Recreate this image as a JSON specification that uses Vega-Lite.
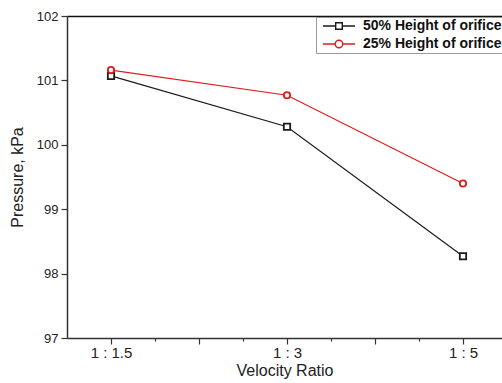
{
  "$schema": "https://vega.github.io/schema/vega-lite/v6.json",
  "width": 435,
  "height": 322,
  "autosize": {"type": "none"},
  "padding": {"left": 67, "top": 16, "right": 0, "bottom": 45},
  "background": "white",
  "config": {
    "font": "Liberation Sans",
    "view": {"stroke": null},
    "axis": {
      "domainColor": "#333333",
      "domainWidth": 1.5,
      "tickColor": "#333333",
      "tickWidth": 1.2,
      "labelFont": "Liberation Sans",
      "labelFontSize": 13,
      "labelColor": "#222222",
      "titleFont": "Liberation Sans",
      "titleFontSize": 16,
      "titleFontWeight": "normal",
      "titleColor": "#222222",
      "grid": false
    }
  },
  "data": {
    "values": [
      {"ratio": 1, "series": "50% Height of orifice", "pressure": 101.07},
      {"ratio": 2, "series": "50% Height of orifice", "pressure": 100.28},
      {"ratio": 3, "series": "50% Height of orifice", "pressure": 98.27},
      {"ratio": 1, "series": "25% Height of orifice", "pressure": 101.16},
      {"ratio": 2, "series": "25% Height of orifice", "pressure": 100.77},
      {"ratio": 3, "series": "25% Height of orifice", "pressure": 99.40}
    ]
  },
  "resolve": {
    "scale": {"stroke": "independent", "shape": "independent"},
    "axis": {"x": "independent"}
  },
  "layer": [
    {
      "mark": {"type": "line", "strokeWidth": 1.2},
      "encoding": {
        "x": {
          "field": "ratio", "type": "quantitative",
          "scale": {"domain": [0.75, 3.2216], "nice": false, "zero": false},
          "axis": {
            "orient": "bottom",
            "title": "Velocity Ratio",
            "titlePadding": 2,
            "values": [1, 1.25, 1.5, 1.75, 2, 2.25, 2.5, 2.75, 3],
            "labelExpr": "datum.value == 1 ? '1 : 1.5' : datum.value == 2 ? '1 : 3' : datum.value == 3 ? '1 : 5' : ''",
            "tickSize": {"condition": {"test": "datum.value % 0.5 == 0", "value": 6}, "value": 3},
            "labelFontSize": 15,
            "labelPadding": 1,
            "labelFlush": false
          }
        },
        "y": {
          "field": "pressure", "type": "quantitative",
          "scale": {"domain": [97, 102], "nice": false, "zero": false},
          "axis": {
            "title": "Pressure, kPa",
            "titlePadding": 11,
            "values": [97, 97.5, 98, 98.5, 99, 99.5, 100, 100.5, 101, 101.5, 102],
            "labelExpr": "datum.value % 1 == 0 ? format(datum.value, 'd') : ''",
            "tickSize": {"condition": {"test": "datum.value % 1 == 0", "value": 6}, "value": 3},
            "labelPadding": 3,
            "labelFlush": false
          }
        },
        "stroke": {
          "field": "series", "type": "nominal",
          "scale": {"domain": ["50% Height of orifice", "25% Height of orifice"], "range": ["#1a1a1a", "#e01b1b"]},
          "legend": null
        }
      }
    },
    {
      "mark": {"type": "point", "filled": false, "fill": "white", "strokeWidth": 1.8, "opacity": 1},
      "encoding": {
        "x": {"field": "ratio", "type": "quantitative", "axis": null},
        "y": {"field": "pressure", "type": "quantitative"},
        "stroke": {
          "field": "series", "type": "nominal",
          "scale": {"domain": ["50% Height of orifice", "25% Height of orifice"], "range": ["#1a1a1a", "#e01b1b"]},
          "legend": null
        },
        "shape": {
          "field": "series", "type": "nominal",
          "scale": {"domain": ["50% Height of orifice", "25% Height of orifice"], "range": ["square", "circle"]},
          "legend": null
        },
        "size": {"value": 40}
      }
    },
    {
      "mark": {"type": "point", "filled": false, "fill": "white", "strokeWidth": 1.4, "opacity": 0},
      "encoding": {
        "x": {
          "field": "ratio", "type": "quantitative",
          "axis": {"orient": "top", "labels": false, "ticks": false, "title": null, "domainColor": "#111111", "domainWidth": 1.5}
        },
        "y": {"field": "pressure", "type": "quantitative"},
        "stroke": {
          "field": "series", "type": "nominal",
          "scale": {"domain": ["50% Height of orifice", "25% Height of orifice"], "range": ["#1a1a1a", "#e01b1b"]},
          "legend": {
            "title": null, "orient": "none", "legendX": 249, "legendY": 1,
            "padding": 2, "rowPadding": 4, "symbolSize": 144, "symbolOffset": 14,
            "labelOffset": 17, "labelFontSize": 14, "labelFontWeight": "bold", "labelColor": "#111111",
            "strokeColor": "#999999", "fillColor": "white", "symbolOpacity": 1, "symbolFillColor": "white", "symbolStrokeWidth": 1.4
          }
        },
        "shape": {
          "field": "series", "type": "nominal",
          "scale": {
            "domain": ["50% Height of orifice", "25% Height of orifice"],
            "range": [
              "M-2.67,0H-0.55M0.55,0H2.67M-0.55,-0.55H0.55V0.55H-0.55Z",
              "M-2.67,0H-0.62M0.62,0H2.67M-0.62,0A0.62,0.62,0,1,0,0.62,0A0.62,0.62,0,1,0,-0.62,0Z"
            ]
          },
          "legend": {
            "title": null, "orient": "none", "legendX": 249, "legendY": 1,
            "padding": 2, "rowPadding": 4, "symbolSize": 144, "symbolOffset": 14,
            "labelOffset": 17, "labelFontSize": 14, "labelFontWeight": "bold", "labelColor": "#111111",
            "strokeColor": "#999999", "fillColor": "white", "symbolOpacity": 1, "symbolFillColor": "white", "symbolStrokeWidth": 1.4
          }
        }
      }
    }
  ]
}
